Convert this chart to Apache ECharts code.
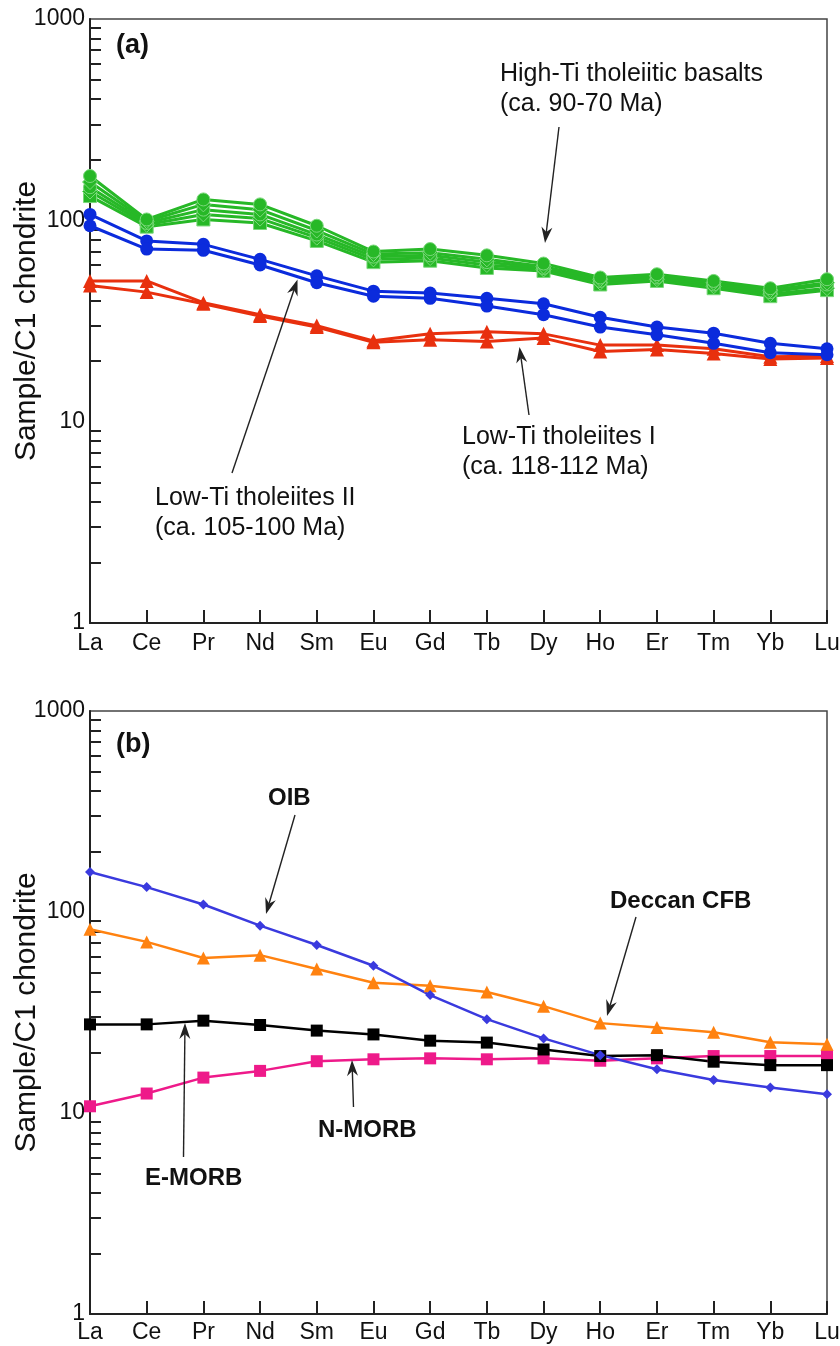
<!DOCTYPE html>
<html>
<head>
<meta charset="utf-8">
<script src="https://cdn.jsdelivr.net/npm/echarts@6/dist/echarts.min.js"></script>
<style>
  html, body { margin: 0; padding: 0; background: #fff; }
  #chart { width: 840px; height: 1346px; }
</style>
</head>
<body>
<div id="chart"></div>
<script>
// REE elements on the x axis
var elements = ['La', 'Ce', 'Pr', 'Nd', 'Sm', 'Eu', 'Gd', 'Tb', 'Dy', 'Ho', 'Er', 'Tm', 'Yb', 'Lu'];
var majorTicks = [1, 10, 100, 1000];
var minorTicks = [2, 3, 4, 5, 6, 7, 8, 9, 20, 30, 40, 50, 60, 70, 80, 90, 200, 300, 400, 500, 600, 700, 800, 900];

// (a) High-Ti tholeiitic basalts
var highTi1 = [166, 101, 127, 120, 94, 70, 72, 67, 61, 52, 54, 50, 46, 51];
var highTi2 = [155, 99, 120, 113, 89, 68, 69, 64, 59, 51, 53, 49, 45, 49];
var highTi3 = [146, 97, 113, 107, 85, 66, 67, 62, 58, 50, 52, 48, 44, 48];
var highTi4 = [139, 95, 107, 102, 82, 64, 65, 60, 57, 49, 51, 47, 43, 46];
var highTi5 = [132, 93, 101, 97, 79, 62, 63, 58, 56, 48, 50, 46, 42, 45];
// (a) Low-Ti tholeiites II
var lowTiII1 = [107, 79, 76, 64, 53, 44.5, 43.5, 41, 38.5, 33, 29.5, 27.5, 24.5, 23];
var lowTiII2 = [94, 72, 71, 60, 49, 42, 41, 37.5, 34, 29.5, 27, 24.5, 22, 21.5];
// (a) Low-Ti tholeiites I
var lowTiI1 = [50, 50, 39, 34, 30, 25.2, 27.3, 28, 27.3, 24, 24, 23, 21, 21.2];
var lowTiI2 = [47.5, 44, 38.5, 33.5, 29.5, 24.8, 25.5, 25, 26, 22.3, 22.8, 21.8, 20.5, 20.7];

// (b) reference patterns
var oib = [158, 133, 109, 85.5, 68.5, 54, 38.6, 29.3, 23.5, 19.4, 16.5, 14.6, 13.4, 12.4];
var deccan = [82, 71, 59, 61, 52, 44.5, 43, 40, 34, 28, 26.6, 25.2, 22.5, 22];
var emorb = [27.6, 27.6, 28.8, 27.4, 25.7, 24.6, 22.9, 22.4, 20.7, 19.2, 19.4, 18, 17.3, 17.3];
var nmorb = [10.8, 12.5, 15, 16.2, 18.1, 18.5, 18.7, 18.5, 18.7, 18.2, 18.7, 19.2, 19.2, 19.2];

var FONT = 'Liberation Sans, Arial, Helvetica, sans-serif';

function xAxisFor(grid, margin) {
    return {
        type: 'category',
        gridIndex: grid,
        data: elements,
        boundaryGap: false,
        axisLine: { lineStyle: { color: '#222', width: 2 } },
        axisTick: { inside: true, length: 13, lineStyle: { color: '#222', width: 2 } },
        axisLabel: { color: '#111', fontSize: 23, fontFamily: FONT, margin: margin, interval: 0 },
        splitLine: { show: false }
    };
}

function yMajor(grid) {
    return {
        type: 'log',
        logBase: 10,
        gridIndex: grid,
        position: 'left',
        min: 1,
        max: 1000,
        name: 'Sample/C1 chondrite',
        nameLocation: 'middle',
        nameGap: 48,
        nameMoveOverlap: false,
        nameTextStyle: { color: '#111', fontSize: 30, fontFamily: FONT },
        axisLine: { show: true, lineStyle: { color: '#222', width: 2 } },
        axisTick: { inside: true, length: 20, customValues: majorTicks, lineStyle: { color: '#222', width: 2 } },
        axisLabel: {
            color: '#111', fontSize: 23, fontFamily: FONT, margin: 5, customValues: majorTicks,
            formatter: function (v) { return String(v); }
        },
        splitLine: { show: false }
    };
}

function yMinor(grid) {
    return {
        type: 'log',
        logBase: 10,
        gridIndex: grid,
        position: 'left',
        offset: 0,
        min: 1,
        max: 1000,
        axisLine: { show: false },
        axisTick: { show: true, inside: true, length: 11, customValues: minorTicks, lineStyle: { color: '#222', width: 2 } },
        axisLabel: { show: false },
        splitLine: { show: false }
    };
}

function line(name, data, color, symbol, size, xi, yi, width, border) {
    return {
        name: name,
        type: 'line',
        xAxisIndex: xi,
        yAxisIndex: yi,
        data: data,
        symbol: symbol,
        symbolSize: size,
        showSymbol: true,
        lineStyle: { color: color, width: width },
        itemStyle: { color: color, borderColor: border || color, borderWidth: border ? 1 : 0 },
        emphasis: { disabled: true },
        z: 3
    };
}

function arrow(x1, y1, x2, y2) {
    var ang = Math.atan2(y2 - y1, x2 - x1);
    var L = 16, W = 5.5;
    var bx = x2 - L * Math.cos(ang), by = y2 - L * Math.sin(ang);
    var nx = x2 - (L - 5) * Math.cos(ang), ny = y2 - (L - 5) * Math.sin(ang);
    var px = -Math.sin(ang), py = Math.cos(ang);
    return [
        { type: 'line', shape: { x1: x1, y1: y1, x2: nx, y2: ny }, style: { stroke: '#222', lineWidth: 1.4 }, z: 10 },
        { type: 'polygon', shape: { points: [[x2, y2], [bx + px * W, by + py * W], [nx, ny], [bx - px * W, by - py * W]] }, style: { fill: '#222' }, z: 10 }
    ];
}

function label(x, y, text, size, bold) {
    return {
        type: 'text', x: x, y: y, z: 10,
        style: {
            text: text, fill: '#111', fontSize: size, fontFamily: FONT,
            fontWeight: bold ? 'bold' : 'normal', lineHeight: 30,
            verticalAlign: 'middle', align: 'left'
        }
    };
}

var GREEN = '#27b827', GREEN_EDGE = '#7ad87a';
var BLUE_A = '#0b2bdc', RED_A = '#e8300e';

var graphics = [].concat(
    label(116, 46, '(a)', 27, true),
    label(500, 89, 'High-Ti tholeiitic basalts\n(ca. 90-70 Ma)', 25, false),
    arrow(559, 127, 545, 243),
    label(155, 513, 'Low-Ti tholeiites II\n(ca. 105-100 Ma)', 25, false),
    arrow(232, 473, 297.5, 279.5),
    label(462, 452, 'Low-Ti tholeiites I\n(ca. 118-112 Ma)', 25, false),
    arrow(529, 415, 519.5, 347),
    label(116, 745, '(b)', 27, true),
    label(268, 798, 'OIB', 24, true),
    arrow(295, 815, 266, 914),
    label(610, 901, 'Deccan CFB', 24, true),
    arrow(636, 917, 607, 1016),
    label(145, 1178, 'E-MORB', 24, true),
    arrow(183.5, 1157, 185, 1023),
    label(318, 1130, 'N-MORB', 24, true),
    arrow(353.5, 1107, 352, 1060)
);

var chart = echarts.init(document.getElementById('chart'), null, { renderer: 'canvas' });
chart.setOption({
    backgroundColor: '#fff',
    animation: false,
    grid: [
        { left: 90, top: 19, width: 737, height: 604, outerBoundsMode: 'none', containLabel: false, show: true, borderColor: '#444', borderWidth: 1.5, backgroundColor: 'transparent' },
        { left: 90, top: 711, width: 737, height: 603, outerBoundsMode: 'none', containLabel: false, show: true, borderColor: '#444', borderWidth: 1.5, backgroundColor: 'transparent' }
    ],
    xAxis: [xAxisFor(0, 9), xAxisFor(1, 7)],
    yAxis: [yMajor(0), yMinor(0), yMajor(1), yMinor(1)],
    series: [
        line('Low-Ti I', lowTiI1, RED_A, 'triangle', 14, 0, 0, 3),
        line('Low-Ti I', lowTiI2, RED_A, 'triangle', 14, 0, 0, 3),
        line('Low-Ti II', lowTiII1, BLUE_A, 'circle', 13, 0, 0, 3),
        line('Low-Ti II', lowTiII2, BLUE_A, 'circle', 13, 0, 0, 3),
        line('High-Ti', highTi5, GREEN, 'rect', 13, 0, 0, 3, GREEN_EDGE),
        line('High-Ti', highTi4, GREEN, 'diamond', 15, 0, 0, 3, GREEN_EDGE),
        line('High-Ti', highTi3, GREEN, 'circle', 13, 0, 0, 3, GREEN_EDGE),
        line('High-Ti', highTi2, GREEN, 'diamond', 15, 0, 0, 3, GREEN_EDGE),
        line('High-Ti', highTi1, GREEN, 'circle', 13, 0, 0, 3, GREEN_EDGE),
        line('N-MORB', nmorb, '#ee1a8a', 'rect', 12, 1, 2, 2.5),
        line('E-MORB', emorb, '#000000', 'rect', 12, 1, 2, 2.5),
        line('Deccan CFB', deccan, '#ff8210', 'triangle', 13, 1, 2, 2.5),
        line('OIB', oib, '#3a3ade', 'diamond', 10, 1, 2, 2.5)
    ],
    graphic: graphics
});
</script>
</body>
</html>
